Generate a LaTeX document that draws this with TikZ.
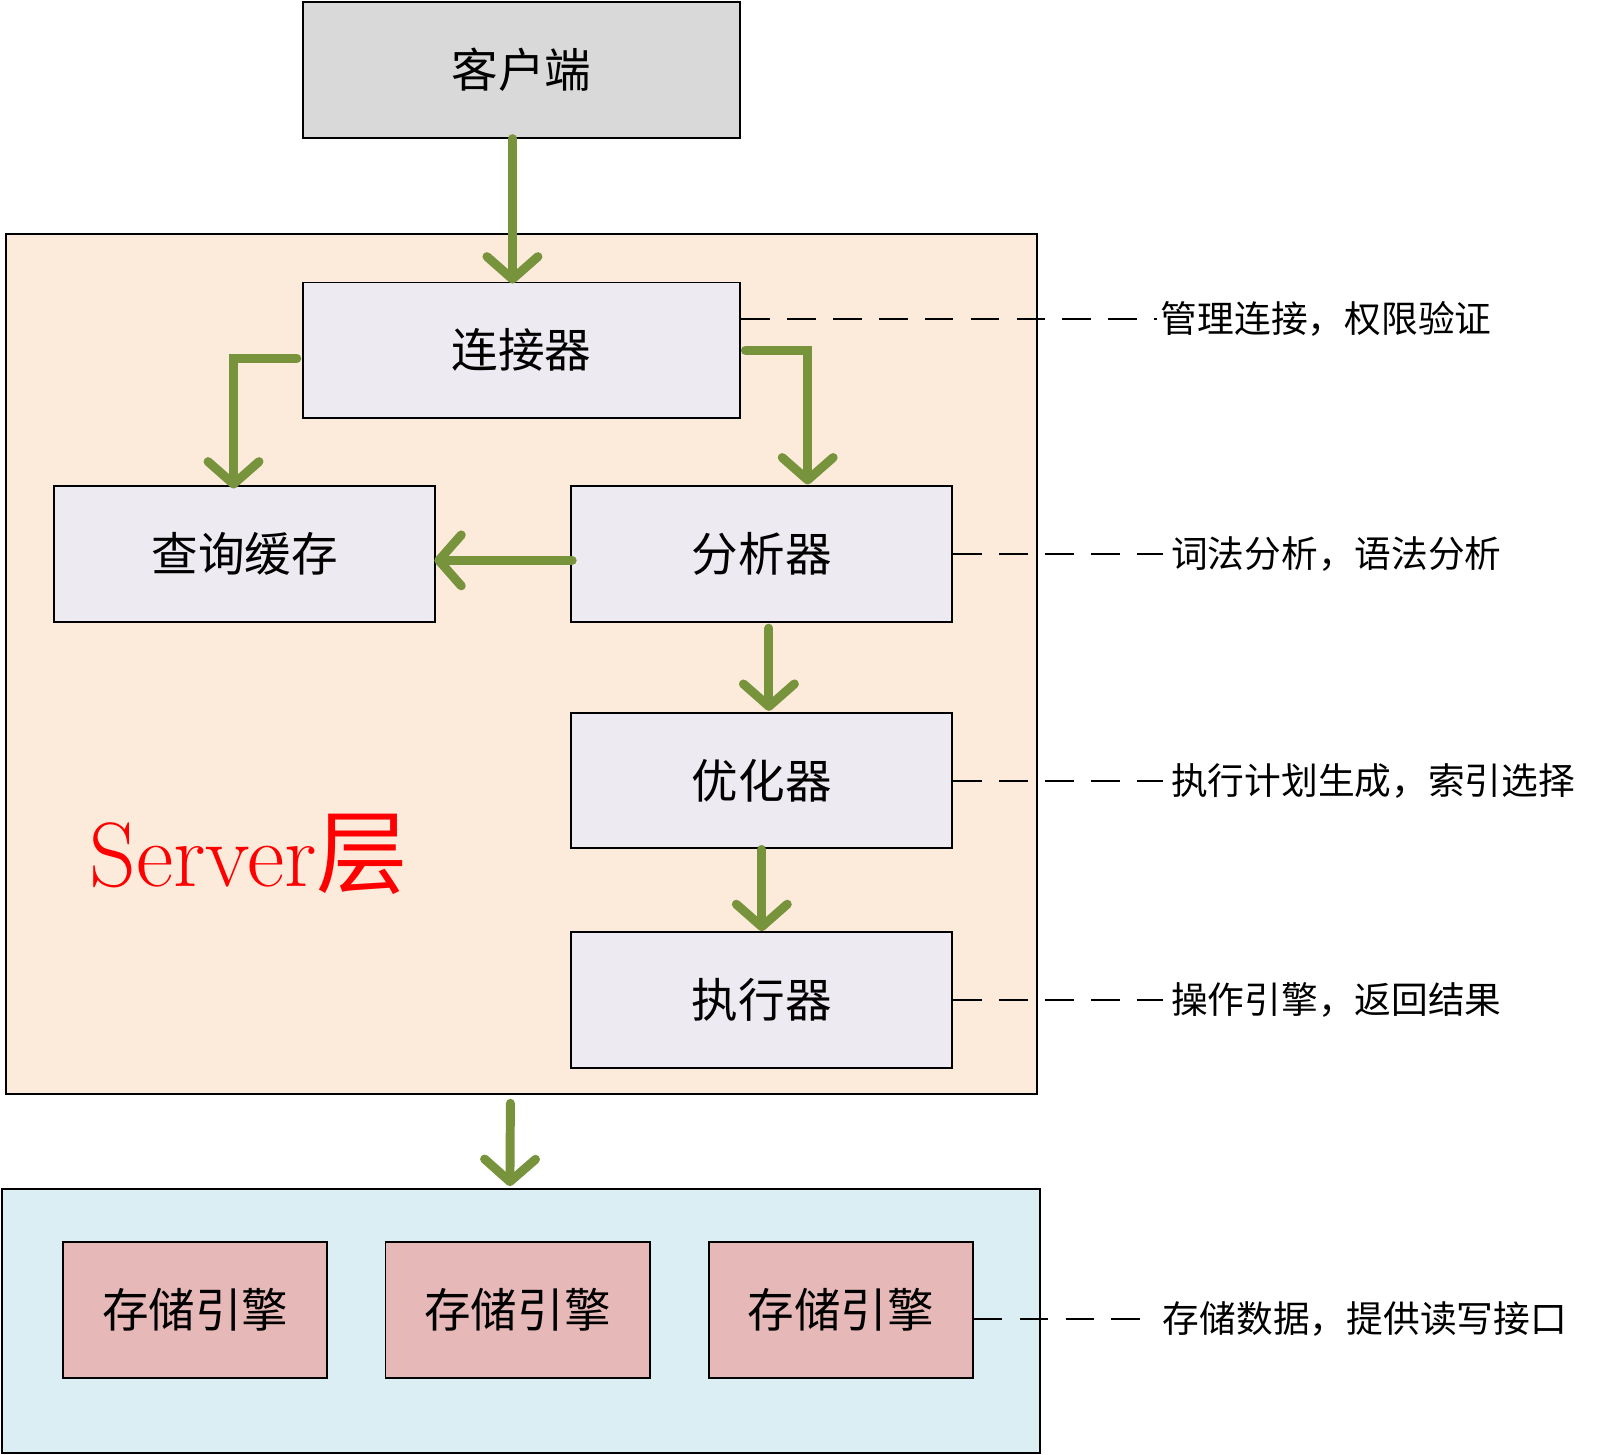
\documentclass[tikz,border=0pt]{standalone}
\usepackage{fontspec}
\newfontfamily\cjk{Noto Sans CJK SC}
\usetikzlibrary{arrows.meta,calc}
\definecolor{clientgray}{RGB}{217,217,217}
\definecolor{serverfill}{RGB}{252,234,219}
\definecolor{boxfill}{RGB}{237,234,241}
\definecolor{storefill}{RGB}{219,238,243}
\definecolor{enginefill}{RGB}{230,185,184}
\definecolor{flowgreen}{RGB}{119,147,60}
\begin{document}
\begin{tikzpicture}[x=0.02cm, y=-0.02cm,
		box/.style={draw, line width=1.1pt, fill=boxfill, minimum width=7.48cm, minimum height=2.66cm, inner sep=0pt, font=\cjk\fontsize{26}{30}\selectfont},
		layer/.style={draw, line width=1.1pt, inner sep=0pt},
		flow/.style={draw=flowgreen, line width=5pt, line cap=round, -{Straight Barb[round, length=0.44cm, width=1cm]}},
		guide/.style={line width=1.1pt, dash pattern=on 0.56cm off 0.34cm},
		note/.style={inner sep=0pt, anchor=west, font=\cjk\fontsize{20.5}{24}\selectfont}]
		\useasboundingbox (0,0) rectangle (1566,1426);
		% Layers
		\node[layer, fill=serverfill, minimum width=20.22cm, minimum height=16.88cm] (server) at (511.5,651) {};
		\node[layer, fill=storefill, minimum width=20.36cm, minimum height=5.18cm] (storage) at (511,1295.5) {};
		% Client
		\node[box, fill=clientgray, minimum width=8.58cm] (client) at (511.5,68.5) {客户端};
		% Server parts
		\node[box, minimum width=8.58cm] (conn) at (511.5,343.5) {连接器};
		\node[box] (cache) at (240,543.5) {查询缓存};
		\node[box] (parser) at (747,543.5) {分析器};
		\node[box] (optim) at (747,765.5) {优化器};
		\node[box] (exec) at (747,980.5) {执行器};
		\node[text=red, font=\fontsize{51}{56}\selectfont] (srvlabel) at (244,838) {Server{\cjk 层}};
		% Engines
		\node[box, fill=enginefill, minimum width=5.18cm] (eng1) at (191.5,1284.5) {存储引擎};
		\node[box, fill=enginefill, minimum width=5.18cm] (eng2) at (507.5,1284.5) {存储引擎};
		\node[box, fill=enginefill, minimum width=5.18cm] (eng3) at (824.5,1284.5) {存储引擎};
		% Arrows
		\draw[flow] ($(client.south)+(-9,0)$) -- ($(conn.north)+(-9,2)$);
		\draw[flow] ($(conn.west)+(-5,8)$) -| ($(cache.north)+(-11,3)$);
		\draw[flow] ($(conn.east)+(4,0)$) -| ($(parser.north)+(45,-1)$);
		\draw[flow] ($(parser.west)+(2,6)$) -- ($(cache.east)+(-2,6)$);
		\draw[flow] ($(parser.south)+(7,5)$) -- ($(optim.north)+(7,-1)$);
		\draw[flow] (optim.south) -- (exec.north);
		\draw[flow] ($(server.south)+(-11,8)$) -- ($(storage.north)+(-11,-2)$);
		% Notes
		\node[note] (n1) at (1138,313) {管理连接，权限验证};
		\node[note] (n2) at (1148,543) {词法分析，语法分析};
		\node[note] (n3) at (1148,766) {执行计划生成，索引选择};
		\node[note] (n4) at (1148,981) {操作引擎，返回结果};
		\node[note] (n5) at (1140,1293) {存储数据，提供读写接口};
		\draw[guide] (conn.east |- n1.west) -- ($(n1.west)+(-3,0)$);
		\draw[guide] (parser.east |- n2.west) -- ($(n2.west)+(-8,0)$);
		\draw[guide] (optim.east |- n3.west) -- ($(n3.west)+(-8,0)$);
		\draw[guide] (exec.east |- n4.west) -- ($(n4.west)+(-8,0)$);
		\draw[guide] (eng3.east |- n5.west) -- ($(n5.west)+(-15,0)$);
	\end{tikzpicture}
\end{document}
